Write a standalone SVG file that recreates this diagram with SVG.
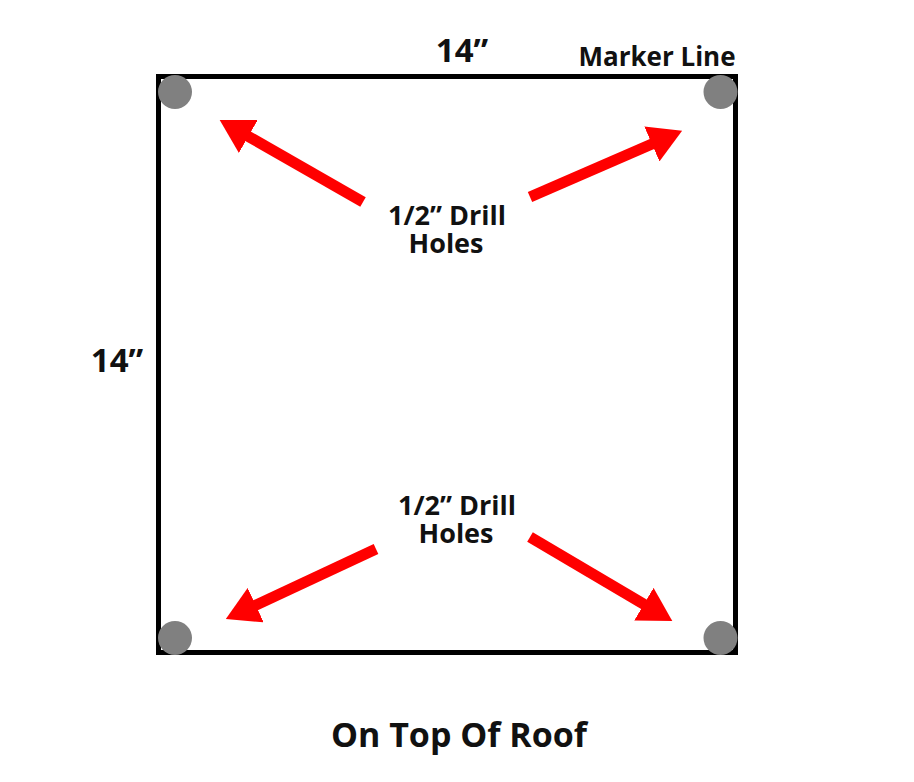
<svg xmlns="http://www.w3.org/2000/svg" width="914" height="782" viewBox="0 0 914 782">
<style>
text{font-family:"Open Sans","Noto Sans","Liberation Sans",sans-serif;font-weight:700;fill:#111;text-anchor:middle}
.hole{fill:#808080}
.arrow{stroke:#ff0000;stroke-width:11;fill:none;marker-end:url(#head)}
</style>
<defs>
<marker id="head" viewBox="0 0 33 38" markerWidth="33" markerHeight="38" refX="2" refY="19" orient="auto" markerUnits="userSpaceOnUse">
<path d="M0,0 L33,19 L0,38 Z" fill="#ff0000"/>
</marker>
</defs>
<rect width="914" height="782" fill="#fff"/>
<g id="board">
<rect x="158.5" y="76.5" width="577" height="576" fill="none" stroke="#000" stroke-width="5"/>
</g>
<g id="hole-tl"><circle class="hole" cx="175" cy="92" r="17"/></g>
<g id="hole-tr"><circle class="hole" cx="720.5" cy="92" r="17"/></g>
<g id="hole-bl"><circle class="hole" cx="175" cy="638" r="17"/></g>
<g id="hole-br"><circle class="hole" cx="720.5" cy="638" r="17"/></g>
<g id="connectors">
<line class="arrow" x1="363" y1="202" x2="246.6" y2="135.4"/>
<line class="arrow" x1="530" y1="197" x2="653.7" y2="143.2"/>
<line class="arrow" x1="376" y1="549" x2="253.9" y2="606"/>
<line class="arrow" x1="530" y1="537" x2="645.6" y2="605.2"/>
</g>
<g id="label-top-width"><text x="462" y="62" font-size="33">14”</text></g>
<g id="label-marker"><text x="657" y="66" font-size="26">Marker Line</text></g>
<g id="label-left-height"><text x="117" y="372" font-size="33">14”</text></g>
<g id="label-top-holes"><text x="447" y="225" font-size="27"><tspan x="447">1/2” Drill</tspan><tspan x="446" y="253">Holes</tspan></text></g>
<g id="label-bottom-holes"><text x="457" y="515" font-size="27"><tspan x="457">1/2” Drill</tspan><tspan x="456" y="543">Holes</tspan></text></g>
<g id="title"><text x="459" y="747" font-size="34">On Top Of Roof</text></g>
</svg>
